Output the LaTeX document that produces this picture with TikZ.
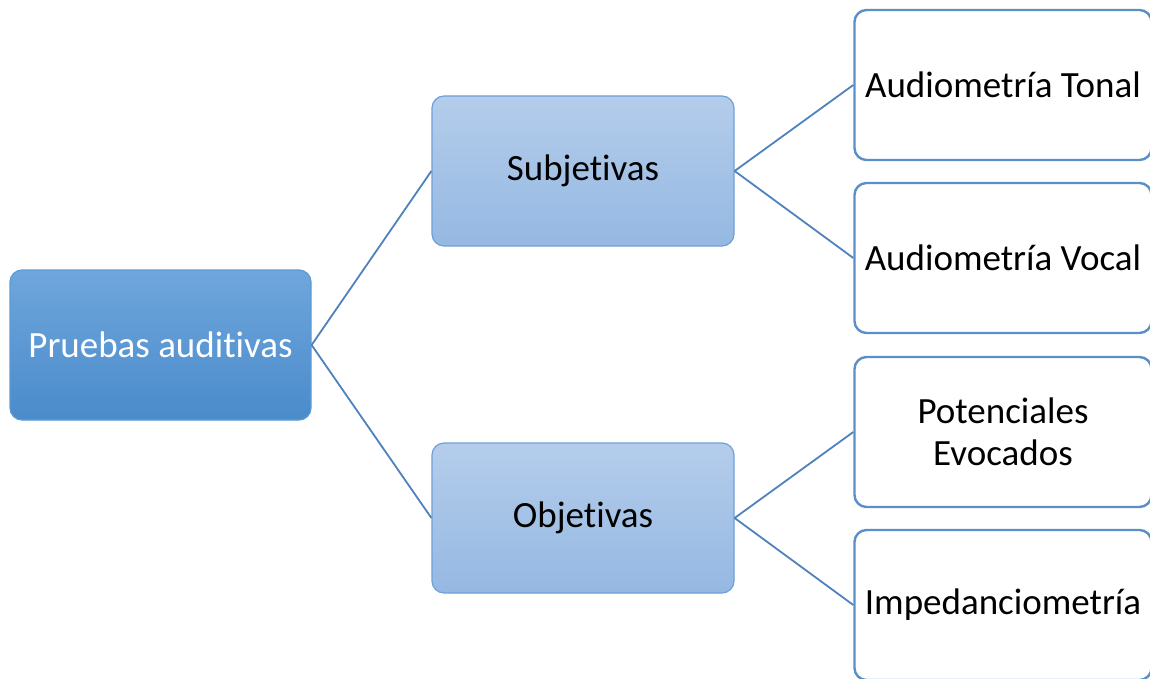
\documentclass[tikz,border=0pt]{standalone}
\usepackage{fontspec}
\setmainfont[Ligatures=NoCommon,RawFeature={-liga;-clig}]{Carlito}
\definecolor{rootTop}{HTML}{6FA6DC}
\definecolor{rootBot}{HTML}{4A8BCB}
\definecolor{rootLine}{HTML}{5B9BD5}
\definecolor{midTop}{HTML}{B4CDEB}
\definecolor{midBot}{HTML}{95B8E2}
\definecolor{midLine}{HTML}{6FA0D8}
\definecolor{leafLine}{HTML}{5B8FC9}
\definecolor{conn}{HTML}{4F81BD}
\begin{document}
\begin{tikzpicture}[x=1pt,y=-1pt,
  box/.style={rectangle, rounded corners=12pt, minimum height=150pt, align=center,
    inner sep=0pt, font=\fontsize{37}{42}\selectfont},
  rootbox/.style={box, minimum width=301pt, top color=rootTop, bottom color=rootBot,
    draw=rootLine, line width=1.2pt, text=white},
  midbox/.style={box, minimum width=302pt, top color=midTop, bottom color=midBot,
    draw=midLine, line width=1.2pt, text=black},
  leafbox/.style={box, minimum width=297pt, fill=white, draw=leafLine, line width=2.4pt, text=black},
  link/.style={draw=conn, line width=1.8pt}]
\useasboundingbox (0,0) rectangle (1150,679);
\begin{scope}
\clip (0,0) rectangle (1150,679);
\node[rootbox] (root) at (160.5,345) {Pruebas auditivas};
\node[midbox] (subj) at (583,171) {Subjetivas};
\node[midbox] (obj) at (583,518) {Objetivas};
\node[leafbox] (tonal) at (1003,85) {Audiometría Tonal};
\node[leafbox] (vocal) at (1003,258) {Audiometría Vocal};
\node[leafbox] (pot) at (1003,432) {Potenciales\\Evocados};
\node[leafbox] (imp) at (1003,605) {Impedanciometría};
\draw[link] (root.east) -- (subj.west);
\draw[link] (root.east) -- (obj.west);
\draw[link] (subj.east) -- (tonal.west);
\draw[link] (subj.east) -- (vocal.west);
\draw[link] (obj.east) -- (pot.west);
\draw[link] (obj.east) -- (imp.west);
\end{scope}
\end{tikzpicture}
\end{document}
